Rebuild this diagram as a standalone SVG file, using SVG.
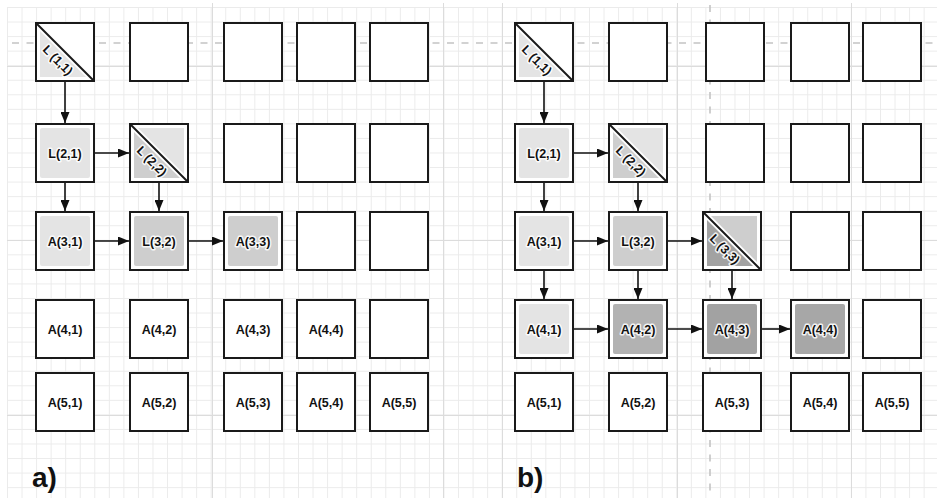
<svg xmlns="http://www.w3.org/2000/svg" width="937" height="498" viewBox="0 0 937 498">
<style>
.box{fill:#fff;stroke:#1a1a1a;stroke-width:2}
.diag{stroke:#1a1a1a;stroke-width:2}
.lbl{font-family:"Liberation Sans",Arial,sans-serif;font-weight:bold;font-size:12.5px;fill:#111;text-anchor:middle;stroke:#fff;stroke-width:3;stroke-opacity:0.85;paint-order:stroke;stroke-linejoin:round}
.cap{font-family:"Liberation Sans",Arial,sans-serif;font-weight:bold;font-size:28px;fill:#111}
.arr{stroke:#111;stroke-width:1.6;fill:none;marker-end:url(#ah)}
.dash{stroke:#c4c4c4;stroke-width:1.6;stroke-dasharray:7 7.5;fill:none}
.major{stroke:#dcdcdc;stroke-width:1}
.f1{fill:#e4e4e4}
.f2{fill:#cecece}
.f3{fill:#b2b2b2}
.f4{fill:#a2a2a2}
.f5{fill:#a7a7a7}
</style>
<defs>
<pattern id="grid" x="7" y="7" width="14.55" height="14.55" patternUnits="userSpaceOnUse">
<path d="M0,0.5 H14.55 M0.5,0 V14.55" stroke="#ebebeb" stroke-width="1" fill="none"/>
</pattern>
<marker id="ah" markerUnits="userSpaceOnUse" markerWidth="12" markerHeight="9" refX="11" refY="4.5" orient="auto">
<path d="M0,0 L11,4.5 L0,9 Z" fill="#111"/>
</marker>
<filter id="soft" x="-10%" y="-10%" width="120%" height="120%">
<feGaussianBlur stdDeviation="0.7"/>
</filter>
</defs>
<g id="background">
<rect x="0" y="0" width="937" height="498" fill="#fff"/>
<rect x="7" y="7" width="930" height="491" fill="url(#grid)"/>
<path class="major" d="M212.5,3 V498 M443.5,3 V498 M502.5,3 V498 M677.5,3 V498 M851.5,3 V498 M7,66.5 H937 M7,240.5 H937 M7,415.5 H937"/>
<path class="dash" d="M12,43 H937"/>
<path class="dash" d="M710,5 V498"/>
</g>
<g id="connectors">
<path class="arr" d="M65,81 V123"/>
<path class="arr" d="M95,153 H129"/>
<path class="arr" d="M65,182 V211"/>
<path class="arr" d="M159,182 V211"/>
<path class="arr" d="M95,241 H129"/>
<path class="arr" d="M189,241 H223"/>
<path class="arr" d="M544,81 V123"/>
<path class="arr" d="M574,153 H608"/>
<path class="arr" d="M544,182 V211"/>
<path class="arr" d="M638,182 V211"/>
<path class="arr" d="M574,241 H608"/>
<path class="arr" d="M668,241 H702"/>
<path class="arr" d="M544,270 V299"/>
<path class="arr" d="M638,270 V299"/>
<path class="arr" d="M732,270 V299"/>
<path class="arr" d="M574,329 H608"/>
<path class="arr" d="M668,329 H702"/>
<path class="arr" d="M762,329 H790"/>
</g>
<!-- Panel a -->
<g id="a-L11"><rect class="box" x="36" y="23" width="58" height="58"/><polygon class="f1" filter="url(#soft)" points="40,31 40,77 86,77"/><line class="diag" x1="36" y1="23" x2="94" y2="81"/><text class="lbl" transform="translate(58,60) rotate(45)" y="4.5">L (1,1)</text></g>
<g id="a-e12"><rect class="box" x="130" y="23" width="58" height="58"/></g>
<g id="a-e13"><rect class="box" x="224" y="23" width="58" height="58"/></g>
<g id="a-e14"><rect class="box" x="297" y="23" width="58" height="58"/></g>
<g id="a-e15"><rect class="box" x="370" y="23" width="58" height="58"/></g>
<g id="a-L21"><rect class="box" x="36" y="124" width="58" height="58"/><rect class="f1" filter="url(#soft)" x="40" y="128" width="50" height="50" rx="2"/><text class="lbl" x="65" y="157.5">L(2,1)</text></g>
<g id="a-L22"><rect class="box" x="130" y="124" width="58" height="58"/><polygon class="f1" filter="url(#soft)" points="138,128 184,128 184,174"/><polygon class="f2" filter="url(#soft)" points="134,132 134,178 180,178"/><line class="diag" x1="130" y1="124" x2="188" y2="182"/><text class="lbl" transform="translate(152,161) rotate(45)" y="4.5">L (2,2)</text></g>
<g id="a-e23"><rect class="box" x="224" y="124" width="58" height="58"/></g>
<g id="a-e24"><rect class="box" x="297" y="124" width="58" height="58"/></g>
<g id="a-e25"><rect class="box" x="370" y="124" width="58" height="58"/></g>
<g id="a-A31"><rect class="box" x="36" y="212" width="58" height="58"/><rect class="f1" filter="url(#soft)" x="40" y="216" width="50" height="50" rx="2"/><text class="lbl" x="65" y="245.5">A(3,1)</text></g>
<g id="a-L32"><rect class="box" x="130" y="212" width="58" height="58"/><rect class="f2" filter="url(#soft)" x="134" y="216" width="50" height="50" rx="2"/><text class="lbl" x="159" y="245.5">L(3,2)</text></g>
<g id="a-A33"><rect class="box" x="224" y="212" width="58" height="58"/><rect class="f2" filter="url(#soft)" x="228" y="216" width="50" height="50" rx="2"/><text class="lbl" x="253" y="245.5">A(3,3)</text></g>
<g id="a-e34"><rect class="box" x="297" y="212" width="58" height="58"/></g>
<g id="a-e35"><rect class="box" x="370" y="212" width="58" height="58"/></g>
<g id="a-A41"><rect class="box" x="36" y="300" width="58" height="58"/><text class="lbl" x="65" y="333.5">A(4,1)</text></g>
<g id="a-A42"><rect class="box" x="130" y="300" width="58" height="58"/><text class="lbl" x="159" y="333.5">A(4,2)</text></g>
<g id="a-A43"><rect class="box" x="224" y="300" width="58" height="58"/><text class="lbl" x="253" y="333.5">A(4,3)</text></g>
<g id="a-A44"><rect class="box" x="297" y="300" width="58" height="58"/><text class="lbl" x="326" y="333.5">A(4,4)</text></g>
<g id="a-e45"><rect class="box" x="370" y="300" width="58" height="58"/></g>
<g id="a-A51"><rect class="box" x="36" y="373" width="58" height="58"/><text class="lbl" x="65" y="406.5">A(5,1)</text></g>
<g id="a-A52"><rect class="box" x="130" y="373" width="58" height="58"/><text class="lbl" x="159" y="406.5">A(5,2)</text></g>
<g id="a-A53"><rect class="box" x="224" y="373" width="58" height="58"/><text class="lbl" x="253" y="406.5">A(5,3)</text></g>
<g id="a-A54"><rect class="box" x="297" y="373" width="58" height="58"/><text class="lbl" x="326" y="406.5">A(5,4)</text></g>
<g id="a-A55"><rect class="box" x="370" y="373" width="58" height="58"/><text class="lbl" x="399" y="406.5">A(5,5)</text></g>
<g id="a-caption"><text class="cap" x="32" y="487">a)</text></g>
<!-- Panel b -->
<g id="b-L11"><rect class="box" x="515" y="23" width="58" height="58"/><polygon class="f1" filter="url(#soft)" points="519,31 519,77 565,77"/><line class="diag" x1="515" y1="23" x2="573" y2="81"/><text class="lbl" transform="translate(537,60) rotate(45)" y="4.5">L (1,1)</text></g>
<g id="b-e12"><rect class="box" x="609" y="23" width="58" height="58"/></g>
<g id="b-e13"><rect class="box" x="706" y="23" width="58" height="58"/></g>
<g id="b-e14"><rect class="box" x="791" y="23" width="58" height="58"/></g>
<g id="b-e15"><rect class="box" x="863" y="23" width="58" height="58"/></g>
<g id="b-L21"><rect class="box" x="515" y="124" width="58" height="58"/><rect class="f1" filter="url(#soft)" x="519" y="128" width="50" height="50" rx="2"/><text class="lbl" x="544" y="157.5">L(2,1)</text></g>
<g id="b-L22"><rect class="box" x="609" y="124" width="58" height="58"/><polygon class="f1" filter="url(#soft)" points="617,128 663,128 663,174"/><polygon class="f2" filter="url(#soft)" points="613,132 613,178 659,178"/><line class="diag" x1="609" y1="124" x2="667" y2="182"/><text class="lbl" transform="translate(631,161) rotate(45)" y="4.5">L (2,2)</text></g>
<g id="b-e23"><rect class="box" x="706" y="124" width="58" height="58"/></g>
<g id="b-e24"><rect class="box" x="791" y="124" width="58" height="58"/></g>
<g id="b-e25"><rect class="box" x="863" y="124" width="58" height="58"/></g>
<g id="b-A31"><rect class="box" x="515" y="212" width="58" height="58"/><rect class="f1" filter="url(#soft)" x="519" y="216" width="50" height="50" rx="2"/><text class="lbl" x="544" y="245.5">A(3,1)</text></g>
<g id="b-L32"><rect class="box" x="609" y="212" width="58" height="58"/><rect class="f2" filter="url(#soft)" x="613" y="216" width="50" height="50" rx="2"/><text class="lbl" x="638" y="245.5">L(3,2)</text></g>
<g id="b-L33"><rect class="box" x="703" y="212" width="58" height="58"/><polygon class="f2" filter="url(#soft)" points="711,216 757,216 757,262"/><polygon class="f4" filter="url(#soft)" points="707,220 707,266 753,266"/><line class="diag" x1="703" y1="212" x2="761" y2="270"/><text class="lbl" transform="translate(725,249) rotate(45)" y="4.5">L (3,3)</text></g>
<g id="b-e34"><rect class="box" x="791" y="212" width="58" height="58"/></g>
<g id="b-e35"><rect class="box" x="863" y="212" width="58" height="58"/></g>
<g id="b-A41"><rect class="box" x="515" y="300" width="58" height="58"/><rect class="f1" filter="url(#soft)" x="519" y="304" width="50" height="50" rx="2"/><text class="lbl" x="544" y="333.5">A(4,1)</text></g>
<g id="b-A42"><rect class="box" x="609" y="300" width="58" height="58"/><rect class="f3" filter="url(#soft)" x="613" y="304" width="50" height="50" rx="2"/><text class="lbl" x="638" y="333.5">A(4,2)</text></g>
<g id="b-A43"><rect class="box" x="703" y="300" width="58" height="58"/><rect class="f4" filter="url(#soft)" x="707" y="304" width="50" height="50" rx="2"/><text class="lbl" x="732" y="333.5">A(4,3)</text></g>
<g id="b-A44"><rect class="box" x="791" y="300" width="58" height="58"/><rect class="f5" filter="url(#soft)" x="795" y="304" width="50" height="50" rx="2"/><text class="lbl" x="820" y="333.5">A(4,4)</text></g>
<g id="b-e45"><rect class="box" x="863" y="300" width="58" height="58"/></g>
<g id="b-A51"><rect class="box" x="515" y="373" width="58" height="58"/><text class="lbl" x="544" y="406.5">A(5,1)</text></g>
<g id="b-A52"><rect class="box" x="609" y="373" width="58" height="58"/><text class="lbl" x="638" y="406.5">A(5,2)</text></g>
<g id="b-A53"><rect class="box" x="703" y="373" width="58" height="58"/><text class="lbl" x="732" y="406.5">A(5,3)</text></g>
<g id="b-A54"><rect class="box" x="791" y="373" width="58" height="58"/><text class="lbl" x="820" y="406.5">A(5,4)</text></g>
<g id="b-A55"><rect class="box" x="863" y="373" width="58" height="58"/><text class="lbl" x="892" y="406.5">A(5,5)</text></g>
<g id="b-caption"><text class="cap" x="517" y="487">b)</text></g>
</svg>
